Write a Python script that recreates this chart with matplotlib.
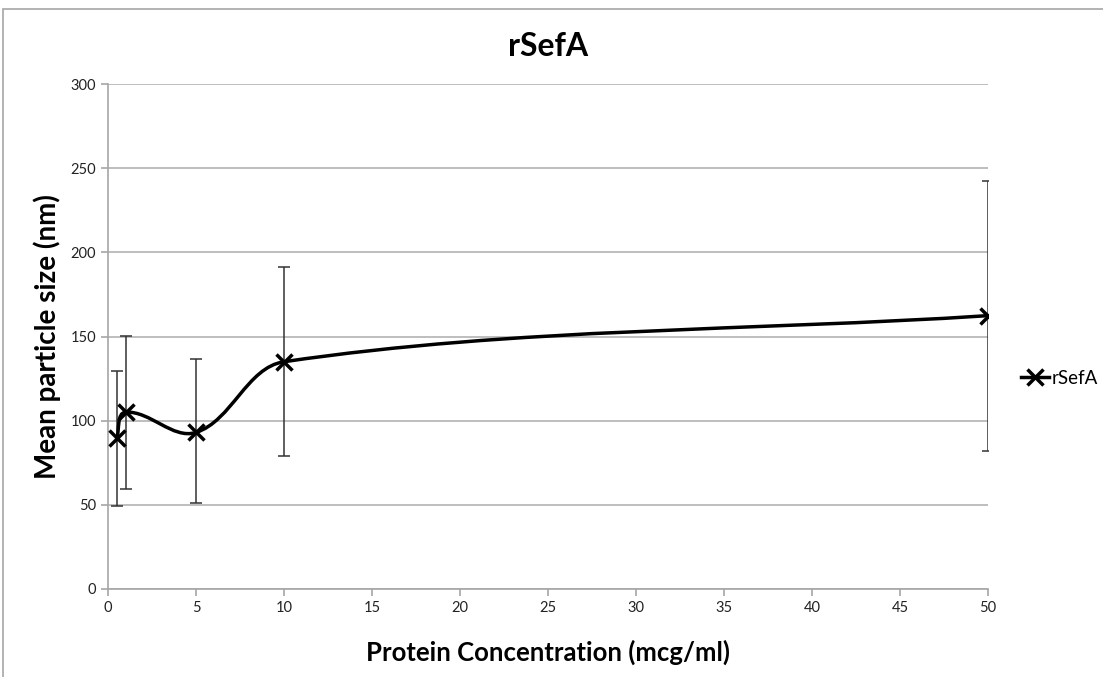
import matplotlib
matplotlib.use("Agg")
import matplotlib.pyplot as plt
from matplotlib.path import Path
from matplotlib.patches import PathPatch, Rectangle
from matplotlib.lines import Line2D
import numpy as np

plt.rcParams['font.family'] = ['Lato', 'DejaVu Sans']

conc = [0.5, 1, 5, 10, 50]
mean_size = [89.5, 105, 93, 135, 162.4]
err_low = [49.5, 59.2, 51, 78.8, 82]
err_high = [129.7, 150.3, 136.5, 191, 242.6]
series_name = "rSefA"
x_ticks = list(range(0, 55, 5))
y_ticks = list(range(0, 350, 50))

fig = plt.figure(figsize=(11.03, 6.77), dpi=100)
ax = fig.add_axes([108/1103, 1-589/677, (988-108)/1103, (589-84)/677])

# frame of chart area
fig.patches.append(Rectangle((3/1103, -0.2), 2, (677-9)/677 + 0.2, transform=fig.transFigure,
                             fill=False, edgecolor='#a6a6a6', linewidth=1.2))

ax.set_xlim(0, 50)
ax.set_ylim(0, 300)
ax.set_xticks(x_ticks)
ax.set_yticks(y_ticks)
ax.grid(axis='y', color='#b3b3b3', linewidth=1.2)
ax.set_axisbelow(True)
for s in ['top', 'right']:
    ax.spines[s].set_visible(False)
for s in ['left', 'bottom']:
    ax.spines[s].set_color('#a6a6a6')
    ax.spines[s].set_linewidth(1.2)
ax.tick_params(axis='both', colors='#a6a6a6', labelcolor='#222222', labelsize=10.5,
               length=5, width=1.2, direction='out')

# error bars
x = np.array(conc); y = np.array(mean_size)
lo = y - np.array(err_low); hi = np.array(err_high) - y
ax.errorbar(x, y, yerr=[lo, hi], fmt='none', ecolor='#333333', elinewidth=1.1,
            capsize=4.5, capthick=1.1, zorder=3)

# smoothed line, computed in display space (Excel-like smoothing)
disp = ax.transData.transform(np.column_stack([x, y]))
n = len(disp)
tang = []
for i in range(n):
    if i == 0:
        d = disp[1] - disp[0]
    elif i == n - 1:
        d = disp[-1] - disp[-2]
    else:
        d = disp[i + 1] - disp[i - 1]
    tang.append(d / np.linalg.norm(d))
verts = [disp[0]]
codes = [Path.MOVETO]
for i in range(n - 1):
    seg = np.linalg.norm(disp[i + 1] - disp[i])
    c1 = disp[i] + tang[i] * seg / 3.0
    c2 = disp[i + 1] - tang[i + 1] * seg / 3.0
    verts += [c1, c2, disp[i + 1]]
    codes += [Path.CURVE4] * 3
verts_data = ax.transData.inverted().transform(np.array(verts))
ax.add_patch(PathPatch(Path(verts_data, codes), facecolor='none', edgecolor='black',
                       linewidth=2.5, zorder=4, capstyle='round', joinstyle='round'))
ax.plot(x, y, linestyle='none', marker='x', markersize=11, markeredgewidth=2.5,
        color='black', zorder=5)

ax.set_title(series_name, fontsize=23, fontweight='bold', pad=20)
ax.set_xlabel("Protein Concentration (mcg/ml)", fontsize=18.5, fontweight='bold', labelpad=18)
ax.set_ylabel("Mean particle size (nm)", fontsize=20, fontweight='bold', labelpad=7)

handle = Line2D([], [], color='black', linewidth=2.5, marker='x', markersize=11,
                markeredgewidth=2.5)
fig.legend([handle], [series_name], loc='center left', bbox_to_anchor=(1004/1103, 1-378/677),
           frameon=False, fontsize=13.5, handlelength=1.5, handletextpad=0.15)

fig.savefig("out.png", dpi=100)
